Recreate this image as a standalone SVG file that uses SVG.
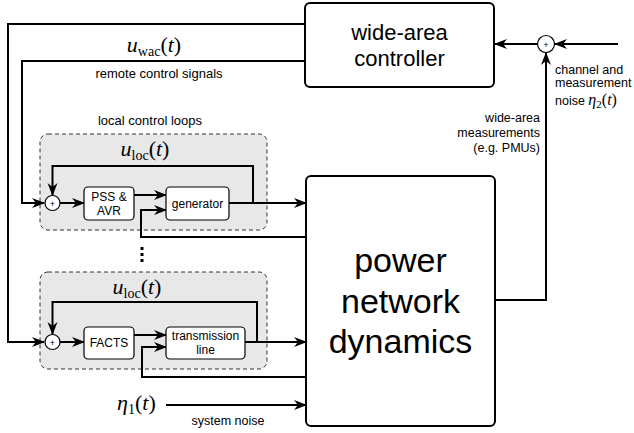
<svg xmlns="http://www.w3.org/2000/svg" width="634" height="433" viewBox="0 0 634 433">
<style>
.sans{font-family:"Liberation Sans",Arial,sans-serif;fill:#000}
.math{font-family:"Liberation Serif","Times New Roman",serif;fill:#000}
.it{font-style:italic}
.big{fill:#fff;stroke:#000;stroke-width:2}
.blk{fill:#fff;stroke:#000;stroke-width:1.2}
.loop{fill:#e8e8e8;stroke:#333;stroke-width:1;stroke-dasharray:4 3}
.sum{fill:#fff;stroke:#000;stroke-width:1.2}
.plus{font-family:"Liberation Sans",Arial,sans-serif;font-size:9px;text-anchor:middle;fill:#000}
.w{fill:none;stroke:#000;stroke-width:2}
.wa{fill:none;stroke:#000;stroke-width:2;marker-end:url(#ah)}
</style>
<defs>
<marker id="ah" markerUnits="userSpaceOnUse" markerWidth="13" markerHeight="10" refX="12" refY="5" orient="auto" overflow="visible">
<path d="M0,0 L13,5 L0,10 L4,5 z" fill="#000"/>
</marker>
</defs>

<g id="loop1">
<rect class="loop" x="40" y="134" width="227" height="96" rx="8"/>
</g>
<g id="loop2">
<rect class="loop" x="40" y="272" width="227" height="97" rx="8"/>
</g>

<g id="connectors">
<path class="wa" d="M618,44 L555,44"/>
<path class="wa" d="M537,44 L495,44"/>
<path class="wa" d="M495,300 L546,300 L546,53"/>
<path class="wa" d="M305,24 L8,24 L8,342 L44,342"/>
<path class="wa" d="M305,61 L22,61 L22,203 L44,203"/>
<path class="wa" d="M60,203 L84,203"/>
<path class="wa" d="M134,195 L166,195"/>
<path class="wa" d="M229,203 L306,203"/>
<path class="wa" d="M253,203 L253,166 L52.5,166 L52.5,195"/>
<path class="wa" d="M306,237 L141,237 L141,210 L166,210"/>
<path class="wa" d="M60,342 L84,342"/>
<path class="wa" d="M134,335 L166,335"/>
<path class="wa" d="M245,342 L306,342"/>
<path class="wa" d="M257,342 L257,302 L52.5,302 L52.5,334"/>
<path class="wa" d="M306,377 L142,377 L142,347 L166,347"/>
<path class="wa" d="M166,405 L306,405"/>
</g>

<g id="controller">
<rect class="big" x="305" y="3" width="189" height="84" rx="5"/>
<text class="sans" x="399.5" y="40" font-size="22" text-anchor="middle">wide-area</text>
<text class="sans" x="399.5" y="66" font-size="22" text-anchor="middle">controller</text>
</g>

<g id="network">
<rect class="big" x="306" y="176" width="189" height="250" rx="5"/>
<text class="sans" x="400.5" y="272" font-size="34" text-anchor="middle">power</text>
<text class="sans" x="400.5" y="313" font-size="34" text-anchor="middle">network</text>
<text class="sans" x="400.5" y="353" font-size="34" text-anchor="middle">dynamics</text>
</g>

<g id="sum-wac">
<circle class="sum" cx="546" cy="44" r="8.5"/>
<text class="plus" x="546" y="47.5">+</text>
</g>

<g id="sum1">
<circle class="sum" cx="52.5" cy="203" r="7.5"/>
<text class="plus" x="52.5" y="206.5">+</text>
</g>
<g id="pss">
<rect class="blk" x="84" y="187" width="50" height="33" rx="4"/>
<text class="sans" x="109" y="201" font-size="12" text-anchor="middle">PSS &amp;</text>
<text class="sans" x="109" y="215" font-size="12" text-anchor="middle">AVR</text>
</g>
<g id="generator">
<rect class="blk" x="166" y="187" width="63" height="33" rx="4"/>
<text class="sans" x="197.5" y="208" font-size="12" text-anchor="middle">generator</text>
</g>

<g id="sum2">
<circle class="sum" cx="52.5" cy="342" r="7.5"/>
<text class="plus" x="52.5" y="345.5">+</text>
</g>
<g id="facts">
<rect class="blk" x="84" y="327" width="50" height="32" rx="4"/>
<text class="sans" x="109" y="347" font-size="12" text-anchor="middle">FACTS</text>
</g>
<g id="tline">
<rect class="blk" x="166" y="327" width="79" height="32" rx="4"/>
<text class="sans" x="205.5" y="340" font-size="12" text-anchor="middle">transmission</text>
<text class="sans" x="205.5" y="354" font-size="12" text-anchor="middle">line</text>
</g>

<g id="dots">
<rect x="140.5" y="247" width="3" height="3"/>
<rect x="140.5" y="253" width="3" height="3"/>
<rect x="140.5" y="259" width="3" height="3"/>
</g>

<g id="labels">
<text class="math" x="154" y="52" font-size="22" text-anchor="middle"><tspan class="it">u</tspan><tspan font-size="14" dy="4">wac</tspan><tspan dy="-4">(</tspan><tspan class="it">t</tspan>)</text>
<text class="sans" x="159" y="78" font-size="13" text-anchor="middle">remote control signals</text>
<text class="sans" x="150" y="125" font-size="13" text-anchor="middle">local control loops</text>
<text class="math" x="145" y="156" font-size="22" text-anchor="middle"><tspan class="it">u</tspan><tspan font-size="14" dy="4">loc</tspan><tspan dy="-4">(</tspan><tspan class="it">t</tspan>)</text>
<text class="math" x="137" y="294" font-size="22" text-anchor="middle"><tspan class="it">u</tspan><tspan font-size="14" dy="4">loc</tspan><tspan dy="-4">(</tspan><tspan class="it">t</tspan>)</text>
<text class="math" x="117" y="410" font-size="22"><tspan class="it">η</tspan><tspan font-size="14" dy="4">1</tspan><tspan dy="-4">(</tspan><tspan class="it">t</tspan>)</text>
<text class="sans" x="228" y="425" font-size="12.5" text-anchor="middle">system noise</text>
<text class="sans" x="540" y="122" font-size="12.5" text-anchor="end">wide-area</text>
<text class="sans" x="540" y="137" font-size="12.5" text-anchor="end">measurements</text>
<text class="sans" x="540" y="152" font-size="12.5" text-anchor="end">(e.g. PMUs)</text>
<text class="sans" x="555" y="74" font-size="12.5">channel and</text>
<text class="sans" x="555" y="87" font-size="12.5">measurement</text>
<text x="555" y="105"><tspan class="sans" font-size="12.5">noise </tspan><tspan class="math it" font-size="16">η</tspan><tspan class="math" font-size="11" dy="3">2</tspan><tspan class="math" font-size="16" dy="-3">(</tspan><tspan class="math it" font-size="16">t</tspan><tspan class="math" font-size="16">)</tspan></text>
</g>
</svg>
